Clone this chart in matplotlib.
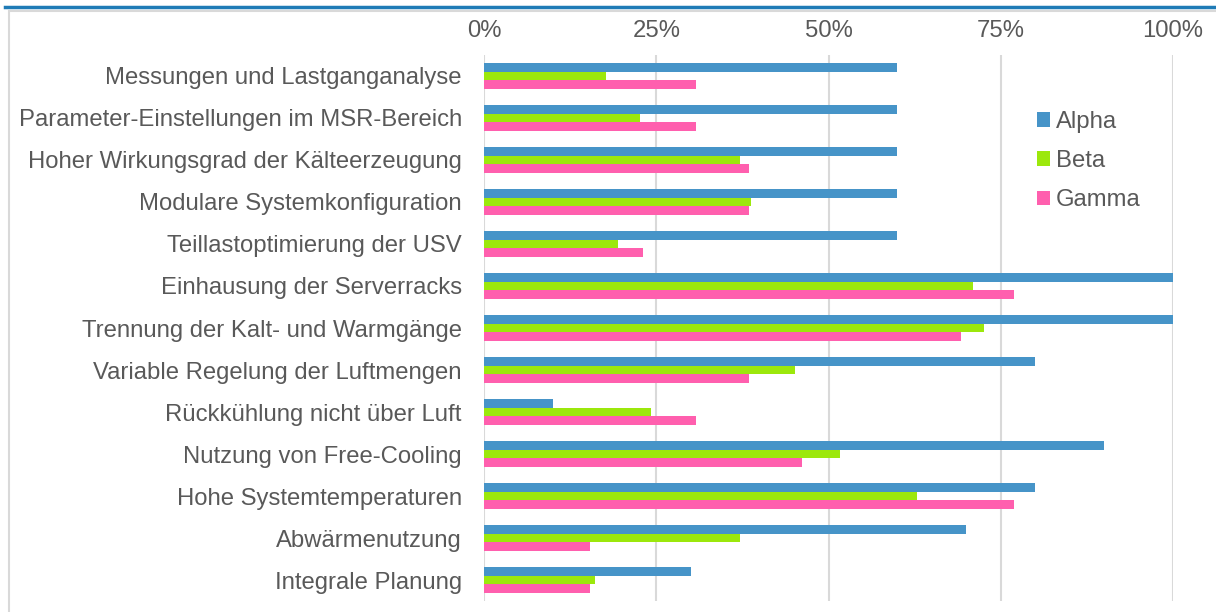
import numpy as np
import matplotlib
matplotlib.use('Agg')
import matplotlib.pyplot as plt
from matplotlib.lines import Line2D
from matplotlib.patches import Rectangle, Patch

categories = [
    "Messungen und Lastganganalyse",
    "Parameter-Einstellungen im MSR-Bereich",
    "Hoher Wirkungsgrad der Kälteerzeugung",
    "Modulare Systemkonfiguration",
    "Teillastoptimierung der USV",
    "Einhausung der Serverracks",
    "Trennung der Kalt- und Warmgänge",
    "Variable Regelung der Luftmengen",
    "Rückkühlung nicht über Luft",
    "Nutzung von Free-Cooling",
    "Hohe Systemtemperaturen",
    "Abwärmenutzung",
    "Integrale Planung",
]
alpha = [60, 60, 60, 60, 60, 100, 100, 80, 10, 90, 80, 70, 30]
beta = [17.7, 22.6, 37.1, 38.7, 19.4, 71.0, 72.6, 45.2, 24.2, 51.6, 62.9, 37.1, 16.1]
gamma = [30.8, 30.8, 38.5, 38.5, 23.1, 76.9, 69.2, 38.5, 30.8, 46.2, 76.9, 15.4, 15.4]
series_names = ["Alpha", "Beta", "Gamma"]
colors = ["#4694C8", "#9CE80C", "#FF5FAE"]
xticks = [0, 25, 50, 75, 100]

plt.rcParams['font.family'] = ['Liberation Sans', 'DejaVu Sans']
text_color = '#595959'
fs = 17.2

fig = plt.figure(figsize=(12.16, 6.12), dpi=100)
W, H = 1216, 612

# outer frame and blue top rule
fig.add_artist(Rectangle((9 / W, -0.05), 1.0, 1 - 11 / H + 0.05, transform=fig.transFigure,
                         fill=False, edgecolor='#D9D9D9', linewidth=1.5))
fig.add_artist(Line2D([5 / W, 1.0], [1 - 7 / H, 1 - 7 / H], transform=fig.transFigure,
                      color='#1F7BB6', linewidth=2.5))

ax = fig.add_axes([484 / W, 1 - 601 / H, 689 / W, 546 / H])

y = np.arange(len(categories))
h = 0.21
for i, (vals, c) in enumerate(zip([alpha, beta, gamma], colors)):
    ax.barh(y + (i - 1) * h, vals, height=h, color=c, linewidth=0, zorder=3)

ax.set_xlim(0, 100)
ax.set_ylim(len(categories) - 0.5, -0.5)
ax.set_xticks(xticks)
ax.set_xticklabels([f"{t}%" for t in xticks])
ax.xaxis.tick_top()
ax.set_yticks(y)
ax.set_yticklabels(categories)
ax.tick_params(axis='both', length=0, labelsize=fs, colors=text_color)
ax.tick_params(axis='x', pad=9)
ax.tick_params(axis='y', pad=16)
ax.grid(axis='x', color='#D9D9D9', linewidth=1.5, zorder=0)
ax.set_axisbelow(True)
for s in ax.spines.values():
    s.set_visible(False)

handles = [Patch(facecolor=c, edgecolor='none') for c in colors]
leg = fig.legend(handles, series_names, loc='upper left',
                 bbox_to_anchor=(1025 / W, 1 - 99 / H), frameon=False,
                 fontsize=fs, handlelength=0.55, handleheight=0.55,
                 handletextpad=0.25, labelspacing=0.72, borderpad=0)
for t in leg.get_texts():
    t.set_color(text_color)

fig.savefig('out.png', dpi=100)
